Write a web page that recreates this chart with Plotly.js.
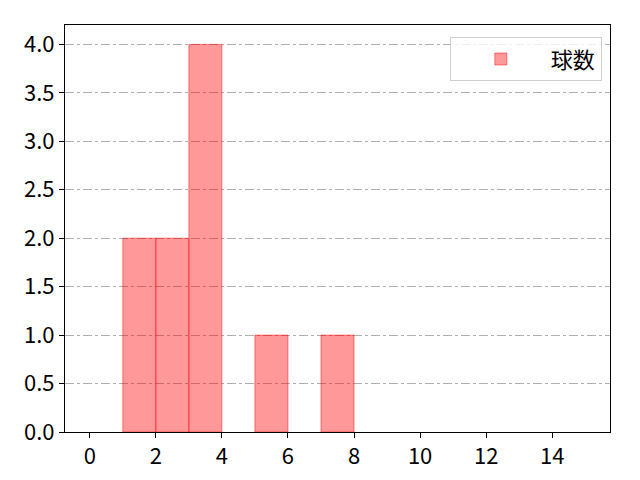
<!DOCTYPE html>
<html>
<head>
<meta charset="utf-8">
<script src="https://cdn.plot.ly/plotly-3.0.1.min.js"></script>
<style>html,body{margin:0;padding:0;background:#fff;}#chart{width:640px;height:480px;}</style>
</head>
<body>
<div id="chart"></div>
<script>
const binStarts = [1, 2, 3, 5, 7];
const counts = [2, 2, 4, 1, 1];
const seriesName = "球数";
const xTicks = [0, 2, 4, 6, 8, 10, 12, 14];
const yTicks = [0, 0.5, 1, 1.5, 2, 2.5, 3, 3.5, 4];

const font = {family: "Noto Sans CJK JP", size: 22, color: "#000"};

const trace = {
  type: "bar",
  x: binStarts,
  y: counts,
  offset: 0,
  width: 1,
  name: seriesName,
  marker: {color: "rgba(255,0,0,0.4)", line: {color: "rgba(255,0,0,0.45)", width: 1}},
  showlegend: true
};

const layout = {
  width: 640, height: 480,
  margin: {l: 65, r: 30, t: 25, b: 48},
  paper_bgcolor: "#fff", plot_bgcolor: "#fff",
  font: font,
  bargap: 0,
  xaxis: {
    range: [-0.75, 15.75],
    tickvals: xTicks,
    ticktext: xTicks.map(String),
    ticks: "outside", ticklen: 5, tickcolor: "#000",
    showline: true, linecolor: "#000", linewidth: 1, mirror: true,
    showgrid: false, zeroline: false,
    tickfont: font
  },
  yaxis: {
    range: [0, 4.2],
    tickvals: yTicks,
    ticktext: yTicks.map(v => v.toFixed(1)),
    ticks: "outside", ticklen: 5, tickcolor: "#000",
    showline: true, linecolor: "#000", linewidth: 1, mirror: true,
    showgrid: true, gridcolor: "#b0b0b0", gridwidth: 1, griddash: "dashdot",
    zeroline: false,
    tickfont: font
  },
  legend: {
    x: 0.985, y: 0.97, xanchor: "right", yanchor: "top",
    bordercolor: "#d0d0d0", borderwidth: 1, bgcolor: "rgba(255,255,255,0.8)",
    font: {family: "Noto Sans CJK JP", size: 22, color: "#000"},
    itemwidth: 90
  }
};

Plotly.newPlot("chart", [trace], layout, {displayModeBar: false, staticPlot: true});
</script>
</body>
</html>
